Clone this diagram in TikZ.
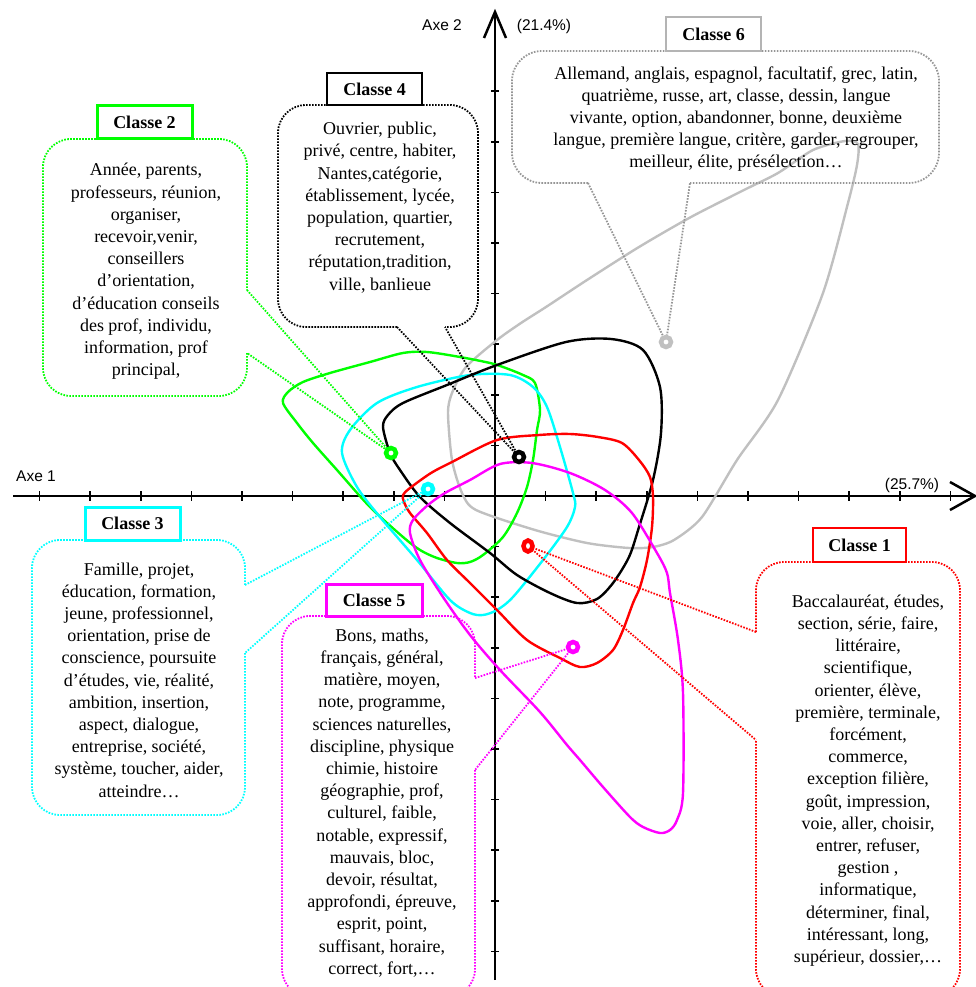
\documentclass[tikz,border=0pt]{standalone}
\usepackage{fontspec}
\usetikzlibrary{shapes.geometric}
\setmainfont{Liberation Serif}
\newfontfamily\axfont{Liberation Sans}
\definecolor{cgreen}{RGB}{0,255,0}
\definecolor{ccyan}{RGB}{0,255,255}
\definecolor{cmag}{RGB}{255,0,255}
\definecolor{cred}{RGB}{255,0,0}
\definecolor{cgray}{RGB}{192,192,192}
\definecolor{cgraybox}{RGB}{180,180,180}
\definecolor{cgraydot}{RGB}{150,150,150}
\pgfdeclarelayer{bg}
\pgfsetlayers{bg,main}
\tikzset{
  contour/.style={line width=2.4pt, line join=round},
  callout/.style={line width=1.8pt, dash pattern=on 1.6pt off 1.4pt},
  titlebox/.style={draw, fill=white, line width=2.5pt, inner sep=0pt,
    font=\bfseries\fontsize{18}{22}\selectfont},
  marker/.style={circle, draw, fill=white, line width=4.5pt, minimum size=10pt, inner sep=0pt},
  body/.style={align=center, inner sep=0pt, font=\fontsize{18}{22.2}\selectfont},
  axlabel/.style={inner sep=0pt, font=\axfont\fontsize{15.5}{18}\selectfont},
  axis/.style={line width=2.5pt, line cap=butt},
  tickmark/.style={line width=1.6pt}
}
\begin{document}
\begin{tikzpicture}[x=1pt,y=-1pt]
\useasboundingbox (0,0) rectangle (976,987);

% markers
\node[marker, ellipse, draw=cred, minimum height=11pt, minimum width=9pt] (m1) at (528,546) {};
\node[marker, draw=cgreen] (m2) at (391,453) {};
\node[marker, draw=ccyan] (m3) at (428,489) {};
\node[marker, draw=black] (m4) at (519,457) {};
\node[marker, draw=cmag] (m5) at (573,647) {};
\node[marker, draw=cgray] (m6) at (666,342) {};

\begin{pgfonlayer}{bg}
% axes
\draw[axis] (13,496) -- (975,496);
\draw[axis, line join=miter] (950,482) -- (975,496) -- (950,510);
\draw[axis] (495,980) -- (495,12);
\draw[axis, line join=miter] (484,38) -- (495,12) -- (506,38);
\foreach \k in {-9,...,-1,1,2,3,4,5,6,7,8,9}
  \draw[tickmark] ({495+50.6*\k},491) -- ({495+50.6*\k},501);
\foreach \k in {-8,...,-1,1,2,3,4,5,6,7,8,9}
  \draw[tickmark] (491,{496+50.6*\k}) -- (499,{496+50.6*\k});

% contours
\draw[contour, cgray] plot[smooth cycle, tension=0.45] coordinates {
 (448,413) (452,393) (466,367) (497,340) (521,323) (546,307) (587,280) (639,247)
 (691,217) (744,190) (778,173) (813,150) (845,141) (858,144) (857,165) (848,203)
 (823,293) (778,400) (737,460) (702,517) (674,540) (653,547) (629,548) (587,543)
 (535,530) (476,510) (462,493) (452,460)};
\draw[contour, cgreen] plot[smooth cycle, tension=0.5] coordinates {
 (283,403) (288,392) (303,382) (330,373) (370,362) (403,353) (427,352) (460,357)
 (490,363) (503,367) (523,375) (535,383) (540,410) (537,430) (533,460) (527,487)
 (517,513) (503,537) (483,555) (470,562) (457,563) (437,558) (420,550) (403,537)
 (370,507) (337,470) (313,443) (297,423)};
\draw[contour, ccyan] plot[smooth cycle, tension=0.5] coordinates {
 (342,453) (350,430) (377,403) (417,387) (470,375) (510,375) (533,387) (547,407)
 (560,447) (573,493) (575,507) (567,527) (543,560) (513,597) (497,610) (483,615)
 (470,613) (450,600) (417,560) (380,517) (357,487)};
\draw[contour, black] plot[smooth cycle, tension=0.5] coordinates {
 (383,427) (388,415) (403,403) (447,385) (497,365) (566,342) (611,339) (643,350)
 (660,387) (661,433) (653,480) (639,527) (629,557) (613,583) (597,599) (577,603)
 (550,593) (517,575) (490,553) (450,523) (420,497) (400,470) (390,453)};
\draw[contour, cred] plot[smooth cycle, tension=0.5] coordinates {
 (403,495) (410,488) (431,473) (452,462) (497,440) (539,435) (570,434) (598,437)
 (622,443) (639,460) (650,477) (653,497) (652,527) (647,560) (640,587) (633,603)
 (623,630) (613,650) (597,663) (580,667) (560,658) (527,640) (497,610) (470,583)
 (447,560) (427,533) (410,513) (404,502)};
\draw[contour, cmag] plot[smooth cycle, tension=0.5] coordinates {
 (410,533) (413,520) (428,505) (445,493) (470,480) (500,464) (532,463) (570,473)
 (605,490) (632,513) (657,553) (667,573) (670,593) (678,640) (683,693) (683,793)
 (677,820) (670,830) (660,833) (643,827) (630,817) (603,787) (580,760) (567,745)
 (540,712) (500,670) (470,635) (443,597) (420,560)};

% callouts
\draw[callout, cred, rounded corners=28pt] (756,632) -- (756,562) -- (960,562) -- (960,997) -- (756,997) -- (756,740);
\draw[callout, cred] (756,632) -- (m1.center) -- (756,740);
\draw[callout, cgreen, rounded corners=28pt] (247,353) -- (247,396) -- (43,396) -- (43,139) -- (247,139) -- (247,290);
\draw[callout, cgreen] (247,290) -- (m2.center) -- (247,353);
\draw[callout, ccyan, rounded corners=28pt] (245,653) -- (245,815) -- (32,815) -- (32,540) -- (245,540) -- (245,585);
\draw[callout, ccyan] (245,585) -- (m3.center) -- (245,653);
\draw[callout, black, rounded corners=28pt] (397,327) -- (278,327) -- (278,105) -- (478,105) -- (478,327) -- (445,327);
\draw[callout, black] (397,327) -- (m4.center) -- (445,327);
\draw[callout, cmag, rounded corners=28pt] (475,770) -- (475,997) -- (282,997) -- (282,616) -- (475,616) -- (475,678);
\draw[callout, cmag] (475,678) -- (m5.center) -- (475,770);
\draw[callout, cgraydot, rounded corners=30pt] (588,183) -- (512,183) -- (512,51) -- (939,51) -- (939,183) -- (690,183);
\draw[callout, cgraydot] (588,183) -- (m6.center) -- (690,183);
\end{pgfonlayer}

% axis labels
\node[axlabel] (ax1) at (36,476) {Axe 1};
\node[axlabel] (ax2) at (442,25) {Axe 2};
\node[axlabel] (p2) at (544,26) {(21.4\%)};
\node[axlabel] (p1) at (912,485) {(25.7\%)};

% title boxes
\node[titlebox, draw=cred, line width=2pt, minimum width=93pt, minimum height=34pt] (c1) at (859.5,545) {Classe 1};
\node[titlebox, draw=cgreen, line width=3pt, minimum width=95pt, minimum height=33pt] (c2) at (144.5,122.5) {Classe 2};
\node[titlebox, draw=ccyan, line width=3pt, minimum width=95pt, minimum height=33pt] (c3) at (132.5,523.5) {Classe 3};
\node[titlebox, draw=black, line width=2pt, minimum width=95pt, minimum height=32pt] (c4) at (374.5,89) {Classe 4};
\node[titlebox, draw=cmag, line width=3pt, minimum width=96pt, minimum height=32pt] (c5) at (374,600) {Classe 5};
\node[titlebox, draw=cgraybox, line width=2pt, minimum width=95pt, minimum height=34pt] (c6) at (713.5,34) {Classe 6};

% texts
\node[body] (t1) at (868,780.5) {Baccalauréat, études,\\section, série, faire,\\littéraire,\\scientifique,\\orienter, élève,\\première, terminale,\\forcément,\\commerce,\\exception filière,\\goût, impression,\\voie, aller, choisir,\\entrer, refuser,\\gestion ,\\informatique,\\déterminer, final,\\intéressant, long,\\supérieur, dossier,…};
\node[body] (t2) at (146,271.5) {Année, parents,\\professeurs, réunion,\\organiser,\\recevoir,venir,\\conseillers\\d’orientation,\\d’éducation conseils\\des prof, individu,\\information, prof\\principal,};
\node[body] (t3) at (139,680) {Famille, projet,\\éducation, formation,\\jeune, professionnel,\\orientation, prise de\\conscience, poursuite\\d’études, vie, réalité,\\ambition, insertion,\\aspect, dialogue,\\entreprise, société,\\système, toucher, aider,\\atteindre…};
\node[body] (t4) at (380,207.5) {Ouvrier, public,\\privé, centre, habiter,\\Nantes,catégorie,\\établissement, lycée,\\population, quartier,\\recrutement,\\réputation,tradition,\\ville, banlieue};
\node[body] (t5) at (382,803) {Bons, maths,\\français, général,\\matière, moyen,\\note, programme,\\sciences naturelles,\\discipline, physique\\chimie, histoire\\géographie, prof,\\culturel, faible,\\notable, expressif,\\mauvais, bloc,\\devoir, résultat,\\approfondi, épreuve,\\esprit, point,\\suffisant, horaire,\\correct, fort,…};
\node[body] (t6) at (736,119) {Allemand, anglais, espagnol, facultatif, grec, latin,\\quatrième, russe, art, classe, dessin, langue\\vivante, option, abandonner, bonne, deuxième\\langue, première langue, critère, garder, regrouper,\\meilleur, élite, présélection…};
\end{tikzpicture}
\end{document}
